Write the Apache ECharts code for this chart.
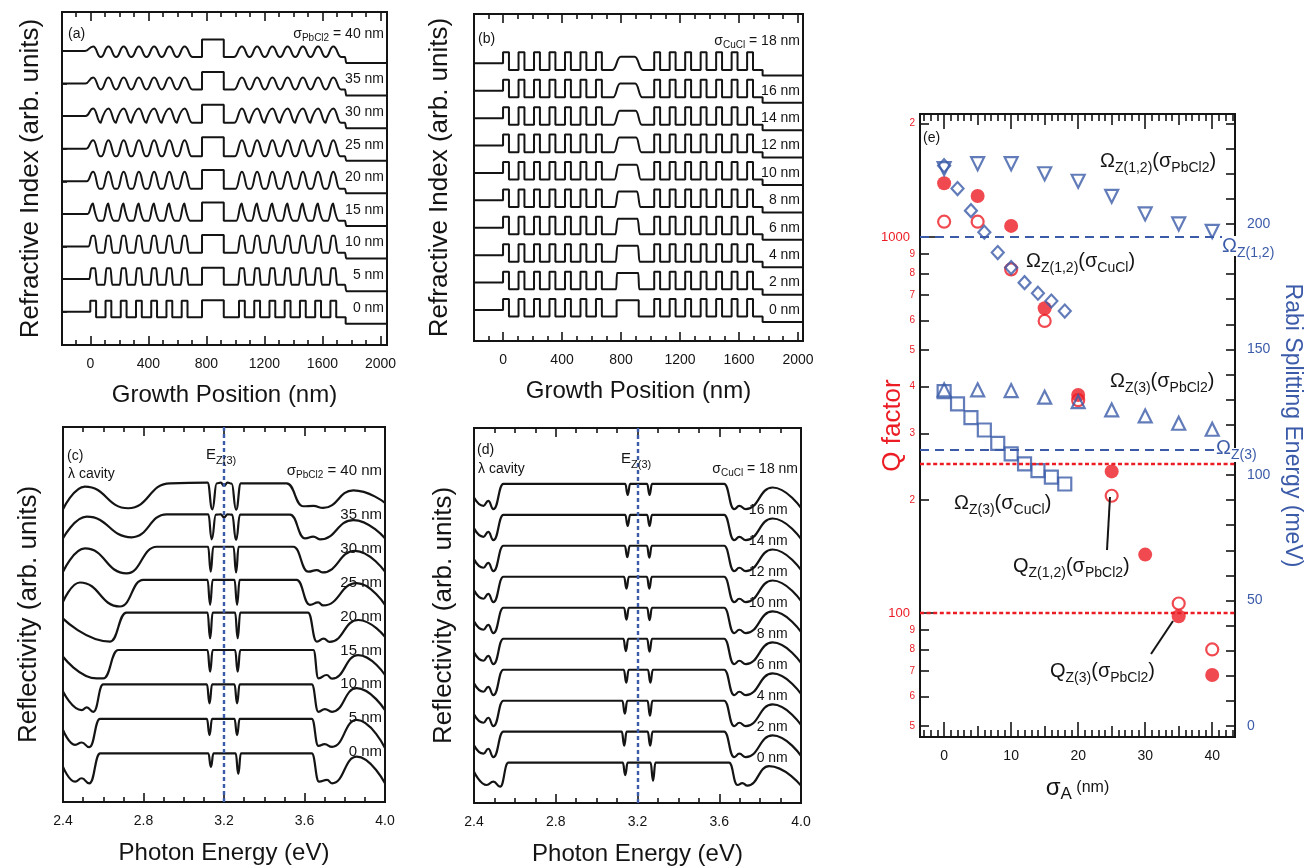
<!DOCTYPE html>
<html>
<head>
<meta charset="utf-8">
<title>Refractive index profiles, reflectivity and Q / Rabi splitting</title>
<script src="https://cdn.jsdelivr.net/npm/echarts@6.0.0/dist/echarts.min.js"></script>
<style>
  html, body { margin: 0; padding: 0; background: #fff; }
  #chart { width: 1311px; height: 866px; }
</style>
</head>
<body>
<div id="chart"></div>
<script>
// ================= data =================
// interface roughness of each trace, bottom trace first
const sigmaPbCl2 = [0, 5, 10, 15, 20, 25, 30, 35, 40];
const sigmaCuCl = [0, 2, 4, 6, 8, 10, 12, 14, 16, 18];

// tick values
const growthTicks = [0, 400, 800, 1200, 1600, 2000];
const growthMinor = [-100, 100, 200, 300, 500, 600, 700, 900, 1000, 1100, 1300, 1400, 1500, 1700, 1800, 1900];
const energyTicks = [2.4, 2.8, 3.2, 3.6, 4.0];
const energyMinor = [2.5, 2.6, 2.7, 2.9, 3.0, 3.1, 3.3, 3.4, 3.5, 3.7, 3.8, 3.9];
const sigmaTicks = [0, 10, 20, 30, 40];
const sigmaMid = [5, 15, 25, 35];
const sigmaMinor = [-3, -2, -1, 1, 2, 3, 4, 6, 7, 8, 9, 11, 12, 13, 14, 16, 17, 18, 19, 21, 22, 23, 24,
  26, 27, 28, 29, 31, 32, 33, 34, 36, 37, 38, 39, 41, 42, 43];
const qMajor = [100, 1000];
const qMinor = [50, 60, 70, 80, 90, 200, 300, 400, 500, 600, 700, 800, 900, 2000];
const rabiLabels = [0, 50, 100, 150, 200];
const rabiTicks = [0, 10, 20, 30, 40, 50, 60, 70, 80, 90, 100, 110, 120, 130, 140, 150, 160, 170, 180, 190,
  200, 210, 220, 230, 240];

// layer stack along the growth direction (nm): interfaces and the layer between them
// S substrate, H / L mirror layers, C cavity, A air
const layerEdges = [0, 40, 105, 145, 210, 250, 315, 355, 420, 460, 525, 565, 630, 670, 770, 920,
  1025, 1065, 1130, 1170, 1235, 1275, 1340, 1380, 1445, 1485, 1550, 1590, 1655, 1695, 1760];
const layerTypes = ['S', 'H', 'L', 'H', 'L', 'H', 'L', 'H', 'L', 'H', 'L', 'H', 'L', 'H', 'L', 'C',
  'L', 'H', 'L', 'H', 'L', 'H', 'L', 'H', 'L', 'H', 'L', 'H', 'L', 'H', 'L', 'A'];

// (a) mirror index levels and graded width (nm) for each sigma_PbCl2
const highIndexA = [0.337, 0.335, 0.33, 0.32, 0.29, 0.26, 0.235, 0.185, 0.135];
const lowIndexA = [-0.172, -0.175, -0.19, -0.21, -0.23, -0.235, -0.205, -0.185, -0.19];
const gradeWidthA = [0, 7, 13, 19, 24, 28, 32, 34, 36];
const cavityIndexA = 0.35;
const airIndexA = -0.37;

// (b) cavity index level and graded width (nm) for each sigma_CuCl
const cavityIndexB = [0.36, 0.35, 0.34, 0.33, 0.32, 0.30, 0.29, 0.27, 0.26, 0.24];
const gradeWidthB = [0, 3, 6, 9, 12, 15, 18, 21, 24, 28];
const highIndexB = 0.40;
const lowIndexB = -0.24;
const airIndexB = -0.44;

// (c) reflectivity vs photon energy for each sigma_PbCl2: [eV, R] (trace offset removed)
const reflPbCl2 = [
  [[2.40,0.60],[2.46,0.16],[2.493,0.26],[2.531,0.11],[2.585,1.00],[3.122,1.00],[3.135,0.60],[3.148,1.00],[3.258,1.00],[3.271,0.39],[3.284,1.00],[3.636,1.00],[3.672,0.16],[3.712,0.21],[3.737,0.11],[3.859,0.90],[4.00,0.11]],
  [[2.40,0.69],[2.46,0.25],[2.493,0.32],[2.531,0.18],[2.584,1.02],[3.115,1.02],[3.128,0.54],[3.141,1.02],[3.252,1.02],[3.265,0.54],[3.278,1.02],[3.636,1.02],[3.669,0.22],[3.70,0.27],[3.737,0.19],[3.859,0.99],[4.00,0.16]],
  [[2.40,0.83],[2.493,0.28],[2.518,0.36],[2.551,0.23],[2.60,1.04],[3.115,1.04],[3.128,0.48],[3.141,1.04],[3.252,1.04],[3.265,0.48],[3.278,1.04],[3.636,1.04],[3.669,0.23],[3.701,0.31],[3.737,0.23],[3.859,0.93],[4.00,0.28]],
  [[2.40,0.86],[2.567,0.22],[2.60,0.22],[2.675,1.06],[3.118,1.06],[3.131,0.42],[3.144,1.06],[3.255,1.06],[3.268,0.42],[3.281,1.06],[3.644,1.06],[3.669,0.22],[3.71,0.32],[3.737,0.21],[3.867,0.91],[4.00,0.32]],
  [[2.40,0.99],[2.634,0.31],[2.716,1.17],[3.118,1.17],[3.131,0.41],[3.144,1.17],[3.255,1.17],[3.268,0.41],[3.281,1.17],[3.617,1.17],[3.661,0.31],[3.695,0.40],[3.725,0.30],[3.867,0.95],[4.00,0.45]],
  [[2.40,0.49],[2.484,1.06],[2.683,0.35],[2.799,1.14],[3.118,1.14],[3.131,0.40],[3.144,1.14],[3.252,1.14],[3.265,0.40],[3.278,1.14],[3.561,1.14],[3.627,0.40],[3.668,0.47],[3.693,0.38],[3.859,1.04],[4.00,0.40]],
  [[2.40,0.38],[2.509,1.07],[2.716,0.33],[2.866,1.12],[3.121,1.12],[3.134,0.38],[3.147,1.12],[3.247,1.12],[3.260,0.36],[3.273,1.12],[3.545,1.12],[3.619,0.38],[3.661,0.43],[3.689,0.36],[3.851,1.00],[4.00,0.38]],
  [[2.40,0.37],[2.518,1.01],[2.741,0.40],[2.915,1.08],[3.122,1.08],[3.139,0.34],[3.160,1.07],[3.184,1.08],[3.200,0.99],[3.218,1.08],[3.240,1.07],[3.260,0.32],[3.280,1.07],[3.528,1.07],[3.603,0.37],[3.644,0.42],[3.677,0.34],[3.843,0.91],[4.00,0.37]],
  [[2.40,0.23],[2.509,0.90],[2.724,0.26],[2.932,1.00],[3.118,1.02],[3.142,0.23],[3.164,1.00],[3.184,1.02],[3.200,0.92],[3.218,1.02],[3.238,0.99],[3.260,0.22],[3.284,1.00],[3.511,1.00],[3.594,0.32],[3.644,0.33],[3.693,0.27],[3.843,0.79],[4.00,0.42]]
];

// (d) reflectivity vs sigma_CuCl: stop-band wings and the two polariton dips [E1, R1, E2, R2]
const wingLowD0 = [[2.40,0.71],[2.462,0.28],[2.495,0.39],[2.528,0.23],[2.568,1.00]];
const wingHighD0 = [[3.648,1.00],[3.689,0.28],[3.713,0.34],[3.738,0.26],[3.844,0.89],[4.00,0.26]];
const wingLowD = [[2.40,0.56],[2.446,0.29],[2.47,0.45],[2.495,0.18],[2.544,1.00]];
const wingHighD = [[3.624,1.00],[3.673,0.18],[3.698,0.29],[3.730,0.18],[3.861,0.88],[4.00,0.22]];
const dipsD = [
  [3.140, 0.60, 3.276, 0.42],
  [3.135, 0.55, 3.262, 0.55],
  [3.138, 0.58, 3.261, 0.52],
  [3.145, 0.58, 3.263, 0.58],
  [3.143, 0.60, 3.259, 0.58],
  [3.146, 0.62, 3.259, 0.60],
  [3.146, 0.62, 3.258, 0.62],
  [3.150, 0.63, 3.258, 0.62],
  [3.152, 0.64, 3.259, 0.64],
  [3.152, 0.64, 3.259, 0.64]
];
const dipHalfWidth = 0.012;

// (e) Q factors and Rabi splittings
const sigmaA = [0, 5, 10, 15, 20, 25, 30, 35, 40];
const sigmaCuClE = [0, 2, 4, 6, 8, 10, 12, 14, 16, 18];
const qZ3PbCl2 = [1389, 1285, 1070, 646, 380, 238, 143, 98, 68.4];
const qZ12PbCl2 = [1098, 1098, 820, 598, 368, 205, null, 106, 80];
const rabiZ12PbCl2 = [222, 224, 224, 220, 217, 211, 204, 200, 197];
const rabiZ12CuCl = [223.2, 214.1, 205.3, 196.7, 188.6, 182.6, 176.6, 172.4, 169.3, 165.3];
const rabiZ3PbCl2 = [133.9, 133.9, 133.6, 131.0, 129.2, 125.9, 123.5, 120.6, 118.2];
const rabiZ3CuCl = [133.2, 128.3, 122.8, 117.9, 112.6, 108.4, 104.4, 101.7, 99.1, 96.4];
const rabiRef = [194.8, 110.2];   // Omega_Z(1,2), Omega_Z(3)
const qRef = [250, 100];

// ================= styling =================
const INK = '#141414';
const RED = '#ec1c24';
const BLUE = '#3b5ba9';
const FONT = '"Liberation Sans", Arial, Helvetica, sans-serif';
const txt = (size, color) => ({fontFamily: FONT, fontSize: size, fontWeight: 'normal', color: color || INK});

const chart = echarts.init(document.getElementById('chart'));

const grids = [
  {left: 62, top: 12, width: 325, height: 333},
  {left: 474, top: 14, width: 329, height: 327},
  {left: 63, top: 427, width: 322, height: 375},
  {left: 474, top: 428, width: 327, height: 375},
  {left: 920, top: 114, width: 315, height: 623}
].map(g => Object.assign({show: true, borderColor: INK, borderWidth: 2, backgroundColor: 'transparent',
  containLabel: false, outerBoundsMode: 'none'}, g));

const xAxes = [];
const yAxes = [];
function plainAxis(o) {
  return Object.assign({
    type: 'value',
    axisLine: {show: false, onZero: false},
    axisTick: {show: false},
    axisLabel: {show: false},
    splitLine: {show: false},
    splitArea: {show: false}
  }, o);
}
function ticks(values, len, color) {
  return {show: true, inside: true, length: len, customValues: values,
    lineStyle: {color: color || INK, width: 1.6}};
}
const addX = o => (xAxes.push(plainAxis(o)), xAxes.length - 1);
const addY = o => (yAxes.push(plainAxis(o)), yAxes.length - 1);

function boxX(gridIndex, min, max, major, minor, majorLen, minorLen, labelOpt, nameOpt) {
  const main = addX(Object.assign({gridIndex, position: 'bottom', min, max,
    axisTick: ticks(major, majorLen),
    axisLabel: Object.assign({show: true, customValues: major, margin: 12}, txt(14), labelOpt)}, nameOpt));
  addX({gridIndex, position: 'bottom', min, max, axisTick: ticks(minor, minorLen)});
  addX({gridIndex, position: 'top', min, max, axisTick: ticks(major, majorLen)});
  addX({gridIndex, position: 'top', min, max, axisTick: ticks(minor, minorLen)});
  return main;
}
const yName = (name, gap) => ({name, nameLocation: 'middle', nameRotate: 90, nameGap: gap,
  nameTextStyle: txt(26)});
const xName = (name, gap) => ({name, nameLocation: 'middle', nameGap: gap, nameTextStyle: txt(24)});

const series = [];
const curveStyle = {type: 'line', showSymbol: false, symbol: 'none', smooth: 0.5, smoothMonotone: 'x',
  lineStyle: {color: INK, width: 2}, silent: true, animation: false};

// ---------- layered stack profile ----------
function stackProfile(level, ramp, xmin, xmax) {
  const pts = [];
  const n = layerTypes.length;
  for (let i = 0; i < n; i++) {
    const x0 = i === 0 ? xmin : layerEdges[i - 1];
    const x1 = i === n - 1 ? xmax : layerEdges[i];
    const r0 = i === 0 ? 0 : ramp(layerTypes[i - 1], layerTypes[i]);
    const r1 = i === n - 1 ? 0 : ramp(layerTypes[i], layerTypes[i + 1]);
    const v = level(layerTypes[i]);
    const a = x0 + r0, b = x1 - r1;
    if (a < b) pts.push([a, v], [b, v]);
    else pts.push([(a + b) / 2, v]);
  }
  return pts;
}

const traceLabel = (size, subSize) => ({
  m: {fontFamily: FONT, fontSize: size, fontWeight: 'normal', color: INK, lineHeight: size + 4},
  s: {fontFamily: FONT, fontSize: subSize, fontWeight: 'normal', color: INK, lineHeight: subSize, verticalAlign: 'bottom'}
});
// invisible anchor points that carry the trace labels
function labelSeries(xi, yi, data, size, formatter, extra) {
  return Object.assign({type: 'scatter', xAxisIndex: xi, yAxisIndex: yi, silent: true, animation: false,
    symbol: 'circle', symbolSize: 0, itemStyle: {color: INK, opacity: 1}, data,
    label: {show: true, position: 'left', distance: 3, color: INK, opacity: 1, fontFamily: FONT,
      fontSize: size, rich: traceLabel(size, 10), formatter}}, extra || {});
}

// ---------- panel (a) ----------
const xa = boxX(0, -195, 2045, growthTicks, growthMinor, 9, 5, {formatter: v => String(v)},
  xName('Growth Position (nm)', 38));
const ya = addY(Object.assign({gridIndex: 0, position: 'left', min: -1.021, max: 9.193,
  axisTick: ticks([0, 1, 2, 3, 4, 5, 6, 7, 8], 5)}, yName('Refractive Index (arb. units)', 18)));
sigmaPbCl2.forEach((s, k) => {
  const level = t => ({S: 0, H: highIndexA[k], L: lowIndexA[k], C: cavityIndexA, A: airIndexA})[t];
  const ramp = (t1, t2) => (t1 === 'C' || t2 === 'C') ? 0 : (t2 === 'A' ? Math.min(gradeWidthA[k], 5) : gradeWidthA[k]);
  series.push(Object.assign({}, curveStyle, {xAxisIndex: xa, yAxisIndex: ya,
    data: stackProfile(level, ramp, -195, 2045).map(p => [p[0], p[1] + k])}));
});
series.push(labelSeries(xa, ya,
  sigmaPbCl2.map((s, k) => [2045, k === sigmaPbCl2.length - 1 ? k + 0.52 : k + 0.12]), 14,
  p => p.dataIndex === sigmaPbCl2.length - 1
    ? '{m|σ}{s|PbCl2}{m| = ' + sigmaPbCl2[p.dataIndex] + ' nm}'
    : '{m|' + sigmaPbCl2[p.dataIndex] + ' nm}'));

// ---------- panel (b) ----------
const xb = boxX(1, -197, 2034, growthTicks, growthMinor, 9, 5, {formatter: v => String(v)},
  xName('Growth Position (nm)', 38));
const yb = addY(Object.assign({gridIndex: 1, position: 'left', min: -1.131, max: 10.80},
  yName('Refractive Index (arb. units)', 21)));
sigmaCuCl.forEach((s, k) => {
  const level = t => ({S: 0, H: highIndexB, L: lowIndexB, C: cavityIndexB[k], A: airIndexB})[t];
  const ramp = (t1, t2) => (t1 === 'C' || t2 === 'C') ? gradeWidthB[k] : 0;
  series.push(Object.assign({}, curveStyle, {xAxisIndex: xb, yAxisIndex: yb,
    data: stackProfile(level, ramp, -197, 2034).map(p => [p[0], p[1] + k])}));
});
series.push(labelSeries(xb, yb,
  sigmaCuCl.map((s, k) => [2034, k === sigmaCuCl.length - 1 ? k + 0.82 : k]), 14,
  p => p.dataIndex === sigmaCuCl.length - 1
    ? '{m|σ}{s|CuCl}{m| = ' + sigmaCuCl[p.dataIndex] + ' nm}'
    : '{m|' + sigmaCuCl[p.dataIndex] + ' nm}'));

// ---------- panel (c) ----------
const ezLine = {symbol: ['none', 'none'], silent: true, label: {show: false},
  lineStyle: {color: BLUE, type: [4, 3], width: 2.4}, data: [{xAxis: 3.2}]};
const spectrumStyle = Object.assign({}, curveStyle, {lineStyle: {color: INK, width: 2.2}});
const xc = boxX(2, 2.4, 4.0, energyTicks, energyMinor, 9, 5, {formatter: v => v.toFixed(1)},
  xName('Photon Energy (eV)', 39));
const yc = addY(Object.assign({gridIndex: 2, position: 'left', min: -0.443, max: 10.668},
  yName('Reflectivity (arb. units)', 21)));
reflPbCl2.forEach((curve, k) => {
  series.push(Object.assign({}, spectrumStyle, {xAxisIndex: xc, yAxisIndex: yc,
    data: curve.map(p => [p[0], p[1] + k])}));
});
series.push(labelSeries(xc, yc,
  sigmaPbCl2.map((s, k) => [4.0, k === sigmaPbCl2.length - 1 ? k + 1.36 : k + 1.05]), 15,
  p => p.dataIndex === sigmaPbCl2.length - 1
    ? '{m|σ}{s|PbCl2}{m| = ' + sigmaPbCl2[p.dataIndex] + ' nm}'
    : '{m|' + sigmaPbCl2[p.dataIndex] + ' nm}', {markLine: ezLine}));

// ---------- panel (d) ----------
const xd = boxX(3, 2.4, 4.0, energyTicks, energyMinor, 9, 5, {formatter: v => v.toFixed(1)},
  xName('Photon Energy (eV)', 39));
const yd = addY(Object.assign({gridIndex: 3, position: 'left', min: -0.30, max: 11.80},
  yName('Reflectivity (arb. units)', 17)));
sigmaCuCl.forEach((s, k) => {
  const d = dipsD[k];
  const w = dipHalfWidth;
  const pts = (k === 0 ? wingLowD0 : wingLowD).concat(
    [[d[0] - w, 1], [d[0], d[1]], [d[0] + w, 1], [d[2] - w, 1], [d[2], d[3]], [d[2] + w, 1]],
    k === 0 ? wingHighD0 : wingHighD);
  series.push(Object.assign({}, spectrumStyle, {xAxisIndex: xd, yAxisIndex: yd,
    data: pts.map(p => [p[0], p[1] + k])}));
});
series.push(labelSeries(xd, yd,
  sigmaCuCl.map((s, k) => k === sigmaCuCl.length - 1 ? [4.0, k + 1.47] : [3.95, k + 1.15]), 14,
  p => p.dataIndex === sigmaCuCl.length - 1
    ? '{m|σ}{s|CuCl}{m| = ' + sigmaCuCl[p.dataIndex] + ' nm}'
    : '{m|' + sigmaCuCl[p.dataIndex] + ' nm}', {markLine: ezLine}));

// ---------- panel (e) ----------
const qMin = 46.8, qMax = 2123;
const xe = addX({gridIndex: 4, position: 'bottom', min: -3.6, max: 43.4,
  axisTick: ticks(sigmaTicks, 15),
  axisLabel: Object.assign({show: true, customValues: sigmaTicks, margin: 12}, txt(14)),
  name: '{s|σ}{a|A}{n| (nm)}', nameLocation: 'middle', nameGap: 36,
  nameTextStyle: {rich: {
    s: {fontFamily: FONT, fontSize: 24, color: INK, lineHeight: 30},
    a: {fontFamily: FONT, fontSize: 17, color: INK, lineHeight: 17, verticalAlign: 'bottom'},
    n: {fontFamily: FONT, fontSize: 16, color: INK, lineHeight: 30}}}});
addX({gridIndex: 4, position: 'bottom', min: -3.6, max: 43.4, axisTick: ticks(sigmaMid, 11)});
addX({gridIndex: 4, position: 'bottom', min: -3.6, max: 43.4, axisTick: ticks(sigmaMinor, 7)});
addX({gridIndex: 4, position: 'top', min: -3.6, max: 43.4, axisTick: ticks(sigmaTicks, 15)});
addX({gridIndex: 4, position: 'top', min: -3.6, max: 43.4, axisTick: ticks(sigmaMid, 11)});
addX({gridIndex: 4, position: 'top', min: -3.6, max: 43.4, axisTick: ticks(sigmaMinor, 7)});

const yq = addY({gridIndex: 4, type: 'log', logBase: 10, min: qMin, max: qMax, position: 'left', show: false});
const lgMin = Math.log10(qMin), lgMax = Math.log10(qMax);
addY({gridIndex: 4, position: 'left', min: lgMin, max: lgMax,
  axisTick: ticks(qMinor.map(Math.log10), 9),
  axisLabel: Object.assign({show: true, customValues: qMinor.map(Math.log10), margin: 5,
    formatter: v => String(Math.round(Math.pow(10, v)))[0]}, txt(10, RED)),
  name: 'Q factor', nameLocation: 'middle', nameRotate: 90, nameGap: 14, nameTextStyle: txt(26, RED)});
addY({gridIndex: 4, position: 'left', min: lgMin, max: lgMax,
  axisTick: ticks(qMajor.map(Math.log10), 16),
  axisLabel: Object.assign({show: true, customValues: qMajor.map(Math.log10), margin: 10,
    formatter: v => String(Math.round(Math.pow(10, v)))}, txt(13, RED))});
const yr = addY({gridIndex: 4, position: 'right', min: -4.4, max: 243.8,
  axisTick: ticks(rabiTicks, 9),
  axisLabel: Object.assign({show: true, customValues: rabiLabels, margin: 12}, txt(14, BLUE)),
  name: 'Rabi Splitting Energy (meV)', nameLocation: 'middle', nameRotate: -90, nameGap: 46,
  nameTextStyle: txt(23, BLUE)});

const pairs = (xs, ys) => xs.map((x, i) => [x, ys[i]]).filter(p => p[1] != null);
const hollow = c => ({color: 'rgba(255,255,255,0)', borderColor: c, borderWidth: 2.2});
series.push({type: 'scatter', xAxisIndex: xe, yAxisIndex: yq, silent: true, animation: false,
  symbol: 'circle', symbolSize: 12, itemStyle: hollow(RED), data: pairs(sigmaA, qZ12PbCl2)});
series.push({type: 'scatter', xAxisIndex: xe, yAxisIndex: yq, silent: true, animation: false,
  symbol: 'circle', symbolSize: 14, itemStyle: {color: RED}, data: pairs(sigmaA, qZ3PbCl2),
  markLine: {symbol: ['none', 'none'], silent: true, label: {show: false},
    lineStyle: {color: RED, type: [4, 2.6], width: 2.4}, data: qRef.map(v => ({yAxis: v}))}});
series.push({type: 'scatter', xAxisIndex: xe, yAxisIndex: yr, silent: true, animation: false,
  symbol: 'triangle', symbolRotate: 180, symbolSize: 13, itemStyle: hollow(BLUE),
  data: pairs(sigmaA, rabiZ12PbCl2),
  markLine: {symbol: ['none', 'none'], silent: true, label: {show: false},
    lineStyle: {color: BLUE, type: [9, 6], width: 2.2}, data: rabiRef.map(v => ({yAxis: v}))}});
series.push({type: 'scatter', xAxisIndex: xe, yAxisIndex: yr, silent: true, animation: false,
  symbol: 'diamond', symbolSize: [12, 13], itemStyle: hollow(BLUE), data: pairs(sigmaCuClE, rabiZ12CuCl)});
series.push({type: 'scatter', xAxisIndex: xe, yAxisIndex: yr, silent: true, animation: false,
  symbol: 'triangle', symbolSize: 13, itemStyle: hollow(BLUE), data: pairs(sigmaA, rabiZ3PbCl2)});
series.push({type: 'scatter', xAxisIndex: xe, yAxisIndex: yr, silent: true, animation: false,
  symbol: 'rect', symbolSize: 13, itemStyle: hollow(BLUE), data: pairs(sigmaCuClE, rabiZ3CuCl)});

// ---------- free text ----------
const richSub = (size, sub, color, bg) => ({
  m: {fontFamily: FONT, fontSize: size, fontWeight: 'normal', color: color || INK, lineHeight: size + 8, backgroundColor: bg},
  s: {fontFamily: FONT, fontSize: sub, fontWeight: 'normal', color: color || INK, lineHeight: sub, verticalAlign: 'bottom', backgroundColor: bg}
});
const notes = [];
const note = (left, top, text, rich) => notes.push({left, top, text, padding: 0, itemGap: 0, z: 20,
  textStyle: {fontFamily: FONT, fontWeight: 'normal', color: INK, rich}});
const plain14 = {m: {fontFamily: FONT, fontSize: 14, fontWeight: 'normal', color: INK, lineHeight: 18}};
note(68, 25, '{m|(a)}', plain14);
note(478, 30, '{m|(b)}', plain14);
note(67, 447, '{m|(c)}', plain14);
note(477, 441, '{m|(d)}', plain14);
note(923, 129, '{m|(e)}', plain14);
note(68, 465, '{m|λ cavity}', plain14);
note(478, 460, '{m|λ cavity}', plain14);
note(206, 443, '{m|E}{s|Z(3)}', richSub(15, 11));
note(621, 447, '{m|E}{s|Z(3)}', richSub(15, 11));
const r20 = richSub(20, 14);
note(1100, 147, '{m|Ω}{s|Z(1,2)}{m|(σ}{s|PbCl2}{m|)}', r20);
note(1026, 247, '{m|Ω}{s|Z(1,2)}{m|(σ}{s|CuCl}{m|)}', r20);
note(1110, 367, '{m|Ω}{s|Z(3)}{m|(σ}{s|PbCl2}{m|)}', r20);
note(954, 489, '{m|Ω}{s|Z(3)}{m|(σ}{s|CuCl}{m|)}', r20);
note(1013, 552, '{m|Q}{s|Z(1,2)}{m|(σ}{s|PbCl2}{m|)}', r20);
note(1050, 657, '{m|Q}{s|Z(3)}{m|(σ}{s|PbCl2}{m|)}', r20);
note(1222, 232, '{m|Ω}{s|Z(1,2)}', richSub(20, 14, BLUE, '#fff'));
note(1216, 434, '{m|Ω}{s|Z(3)}', richSub(20, 14, BLUE, '#fff'));

const graphic = [
  {type: 'line', z: 30, shape: {x1: 1107, y1: 550, x2: 1110, y2: 497}, style: {stroke: INK, lineWidth: 2}},
  {type: 'line', z: 30, shape: {x1: 1151, y1: 654, x2: 1173, y2: 621}, style: {stroke: INK, lineWidth: 2}}
];

chart.setOption({
  animation: false,
  backgroundColor: '#fff',
  textStyle: {fontFamily: FONT},
  grid: grids,
  xAxis: xAxes,
  yAxis: yAxes,
  title: notes,
  graphic: graphic,
  series: series
});
</script>
</body>
</html>
